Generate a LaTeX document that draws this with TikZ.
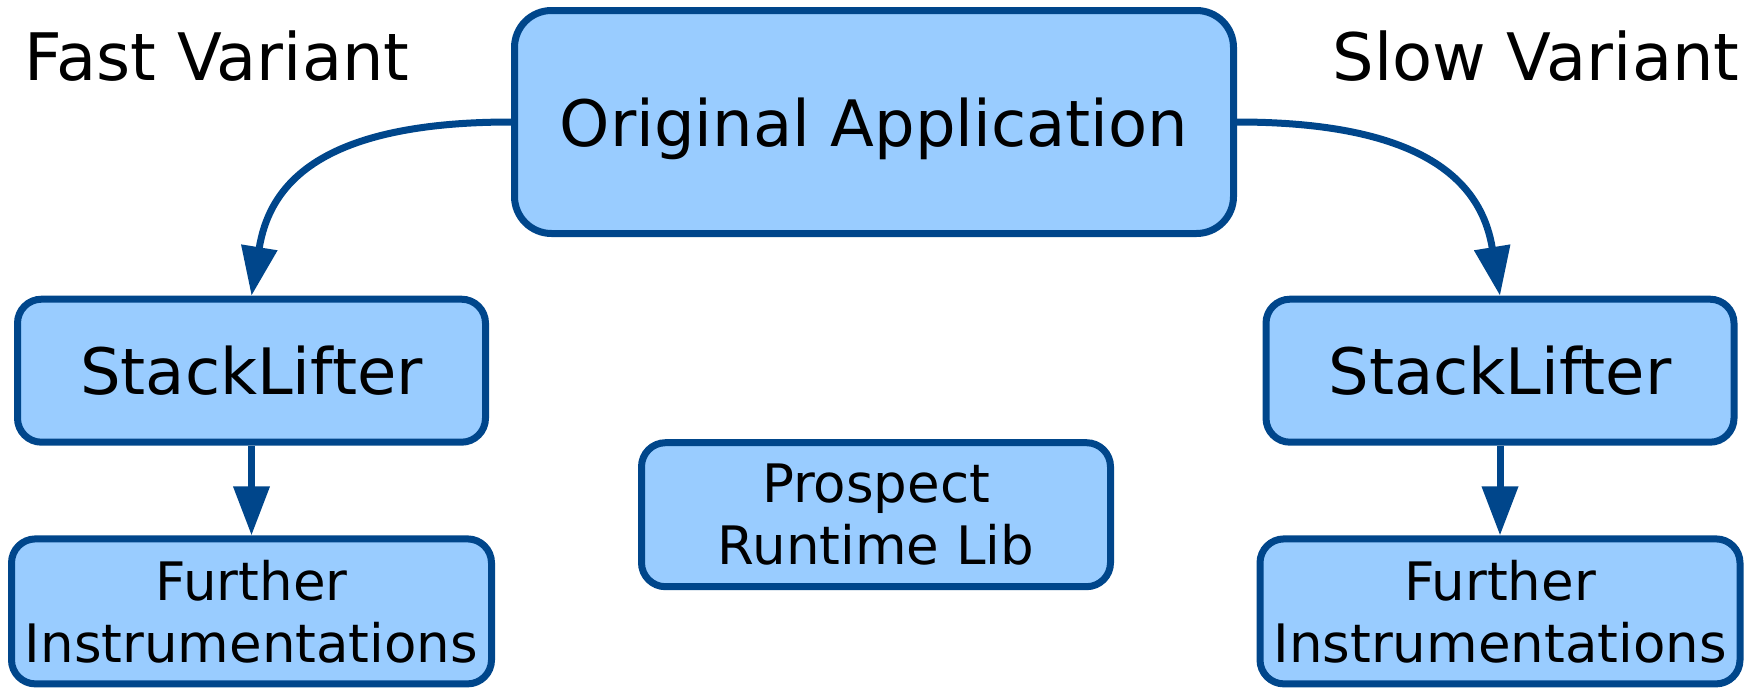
\documentclass[tikz,border=0pt]{standalone}
\usepackage{fontspec}
\setmainfont{DejaVu Sans}
\usetikzlibrary{arrows.meta}
\definecolor{boxfill}{HTML}{99CCFF}
\definecolor{boxline}{HTML}{00468B}
\tikzset{
  box/.style={draw=boxline, fill=boxfill, line width=7pt, inner sep=0pt,
    rounded corners=24pt, align=center},
  bigtext/.style={font=\fontsize{64}{75}\selectfont},
  smalltext/.style={font=\fontsize{53}{62}\selectfont},
  caption/.style={inner sep=0pt, anchor=base, font=\fontsize{65.5}{76}\selectfont},
  conn/.style={draw=boxline, line width=7pt, -{Triangle[length=49pt,width=35pt]}},
}
\begin{document}
\begin{tikzpicture}[x=1pt,y=-1pt]
\useasboundingbox (0,0) rectangle (1757,688);

% variant captions
\node[caption] (fast) at (217,80) {Fast Variant};
\node[caption] (slow) at (1536,80) {Slow Variant};

% top box
\node[box, bigtext, rounded corners=37pt, minimum width=719pt, minimum height=223pt,
      text depth=0pt] (orig) at (874,122) {Original Application};

% fast variant column
\node[box, bigtext, minimum width=468pt, minimum height=143pt] (sl1) at (251.5,370.7) {StackLifter};
\node[box, smalltext, minimum width=480pt, minimum height=145pt] (fi1) at (251.5,611.4) {Further\\Instrumentations};

% slow variant column
\node[box, bigtext, minimum width=468pt, minimum height=143pt] (sl2) at (1500,370.7) {StackLifter};
\node[box, smalltext, minimum width=480pt, minimum height=145pt] (fi2) at (1500,611.4) {Further\\Instrumentations};

% runtime library
\node[box, smalltext, minimum width=469pt, minimum height=144pt] (lib) at (876,514.7) {Prospect\\Runtime Lib};

% connectors
\draw[conn] (orig.west) .. controls +(-200,0) and +(17,-105) .. (sl1.north);
\draw[conn] (orig.east) .. controls +(200,0) and +(-17,-105) .. (sl2.north);
\draw[conn] (sl1.south) -- (fi1.north);
\draw[conn] (sl2.south) -- (fi2.north);
\end{tikzpicture}
\end{document}
